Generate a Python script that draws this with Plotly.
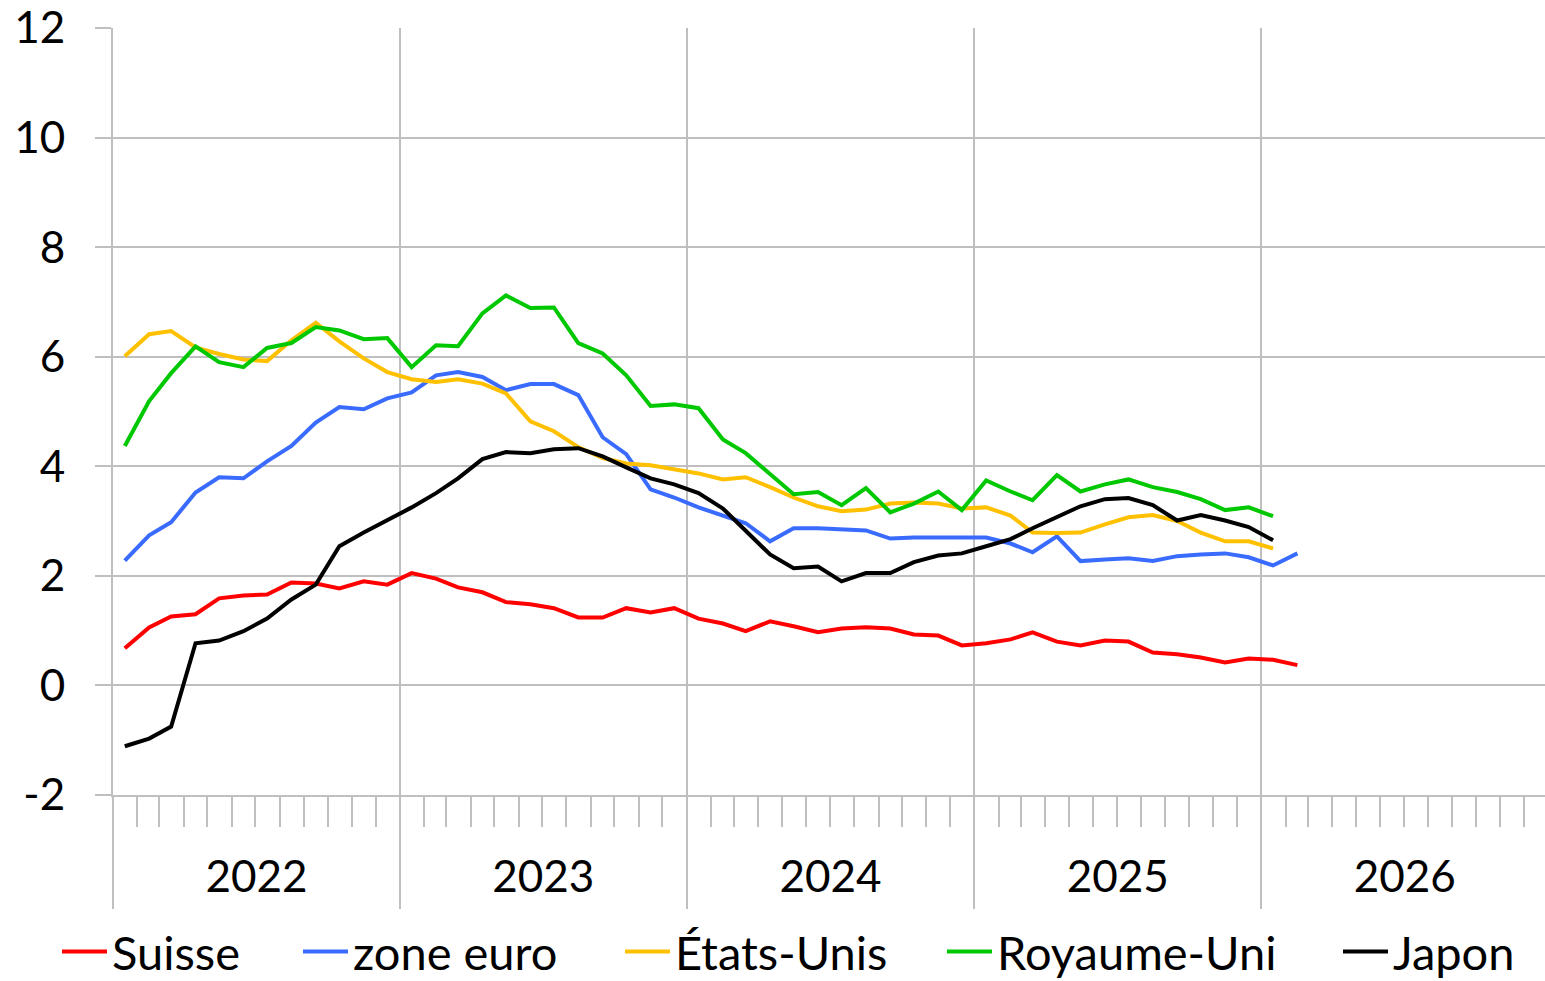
import pandas as pd
import plotly.graph_objects as go

# Monthly year-on-year inflation, %, from January 2022
suisse = [0.68, 1.06, 1.26, 1.30, 1.59, 1.64, 1.66, 1.88, 1.86, 1.77, 1.90, 1.84,
          2.05, 1.95, 1.79, 1.70, 1.52, 1.48, 1.41, 1.24, 1.24, 1.41, 1.33, 1.41,
          1.22, 1.13, 0.99, 1.17, 1.08, 0.97, 1.04, 1.06, 1.04, 0.93, 0.91, 0.73,
          0.77, 0.84, 0.97, 0.80, 0.73, 0.82, 0.80, 0.60, 0.57, 0.51, 0.42, 0.49,
          0.47, 0.37]
zone_euro = [2.28, 2.74, 2.98, 3.52, 3.80, 3.78, 4.09, 4.37, 4.80, 5.08, 5.04, 5.24,
             5.35, 5.66, 5.72, 5.63, 5.39, 5.50, 5.50, 5.30, 4.53, 4.22, 3.58, 3.43,
             3.25, 3.10, 2.96, 2.63, 2.87, 2.87, 2.85, 2.83, 2.68, 2.70, 2.70, 2.70,
             2.70, 2.59, 2.43, 2.72, 2.27, 2.30, 2.32, 2.27, 2.36, 2.39, 2.41, 2.34,
             2.19, 2.41]
etats_unis = [6.01, 6.41, 6.47, 6.17, 6.05, 5.95, 5.92, 6.30, 6.62, 6.28, 5.97, 5.72,
              5.59, 5.54, 5.59, 5.51, 5.33, 4.82, 4.64, 4.35, 4.15, 4.05, 4.02, 3.95,
              3.87, 3.76, 3.80, 3.62, 3.43, 3.27, 3.18, 3.21, 3.32, 3.34, 3.32, 3.23,
              3.25, 3.10, 2.79, 2.78, 2.79, 2.94, 3.07, 3.11, 3.00, 2.79, 2.63, 2.63,
              2.50]
royaume_uni = [4.37, 5.19, 5.70, 6.19, 5.90, 5.81, 6.16, 6.25, 6.54, 6.48, 6.32, 6.34,
               5.81, 6.21, 6.19, 6.79, 7.12, 6.89, 6.90, 6.25, 6.06, 5.66, 5.10, 5.13,
               5.06, 4.49, 4.24, 3.85, 3.49, 3.53, 3.29, 3.60, 3.16, 3.32, 3.54, 3.20,
               3.74, 3.54, 3.38, 3.84, 3.54, 3.67, 3.76, 3.62, 3.53, 3.40, 3.20, 3.25,
               3.09]
japon = [-1.11, -0.97, -0.75, 0.77, 0.82, 0.99, 1.22, 1.57, 1.84, 2.54, 2.79, 3.01,
         3.25, 3.51, 3.78, 4.13, 4.26, 4.24, 4.31, 4.33, 4.18, 3.98, 3.78, 3.67,
         3.51, 3.23, 2.83, 2.39, 2.14, 2.17, 1.90, 2.05, 2.05, 2.25, 2.37, 2.41,
         2.54, 2.67, 2.87, 3.07, 3.27, 3.40, 3.42, 3.29, 3.01, 3.11, 3.01, 2.89,
         2.65]

y_ticks = [-2, 0, 2, 4, 6, 8, 10, 12]
y_tick_text = ["-2", "0", "2", "4", "6", "8", "10", "12"]

series = [
    ("Suisse", suisse, "#FF0000"),
    ("zone euro", zone_euro, "#3A6BFF"),
    ("États-Unis", etats_unis, "#FFC000"),
    ("Royaume-Uni", royaume_uni, "#00C800"),
    ("Japon", japon, "#000000"),
]

W, H = 1545, 981
FONT = "Lato"
WEIGHT = 400
GRID = "#BFBFBF"

# legend sample start positions, px from the left edge
legend_x = [62, 303, 625, 947, 1343]


def mid_month(n):
    starts = pd.date_range("2022-01-01", periods=n, freq="MS")
    return starts + pd.Timedelta(days=15)


fig = go.Figure()
for k, (name, vals, color) in enumerate(series):
    lg = "legend" if k == 0 else f"legend{k + 1}"
    fig.add_trace(go.Scatter(
        x=mid_month(len(vals)), y=vals, name=name, mode="lines",
        line=dict(color=color, width=4), legend=lg,
    ))

legend_common = dict(
    orientation="h", xref="container", yref="container",
    xanchor="left", yanchor="middle", y=29 / H,
    font=dict(family=FONT, size=47, color="#000000", weight=WEIGHT),
    itemwidth=45, bgcolor="rgba(0,0,0,0)", borderwidth=0,
)
legends = {}
for k, px in enumerate(legend_x):
    key = "legend" if k == 0 else f"legend{k + 1}"
    legends[key] = dict(legend_common, x=(px - 5) / W)

tick_font = dict(family=FONT, size=44, color="#000000", weight=WEIGHT)

fig.update_layout(
    width=W, height=H,
    margin=dict(l=113, r=0, t=28, b=186),
    paper_bgcolor="white", plot_bgcolor="white",
    font=tick_font,
    showlegend=True,
    **legends,
)

fig.update_xaxes(
    type="date",
    range=["2022-01-01", "2026-12-28"],
    tick0="2022-01-01", dtick="M12",
    ticklabelmode="period", tickformat="%Y",
    ticks="outside", ticklen=112, tickwidth=2, tickcolor=GRID,
    ticklabelstandoff=-70,
    showgrid=True, gridcolor=GRID, gridwidth=2,
    showline=True, linecolor=GRID, linewidth=2,
    minor=dict(dtick="M1", tick0="2022-01-01", ticks="outside", ticklen=30,
               tickwidth=2, tickcolor=GRID, showgrid=False),
    tickfont=tick_font,
    zeroline=False,
)
fig.update_yaxes(
    range=[-2, 12], tickvals=y_ticks, ticktext=y_tick_text,
    ticks="outside", ticklen=16, tickwidth=2, tickcolor=GRID,
    ticklabelstandoff=21,
    showgrid=True, gridcolor=GRID, gridwidth=2,
    showline=True, linecolor=GRID, linewidth=2,
    zeroline=False,
    tickfont=tick_font,
)

fig.write_html("out.html")
